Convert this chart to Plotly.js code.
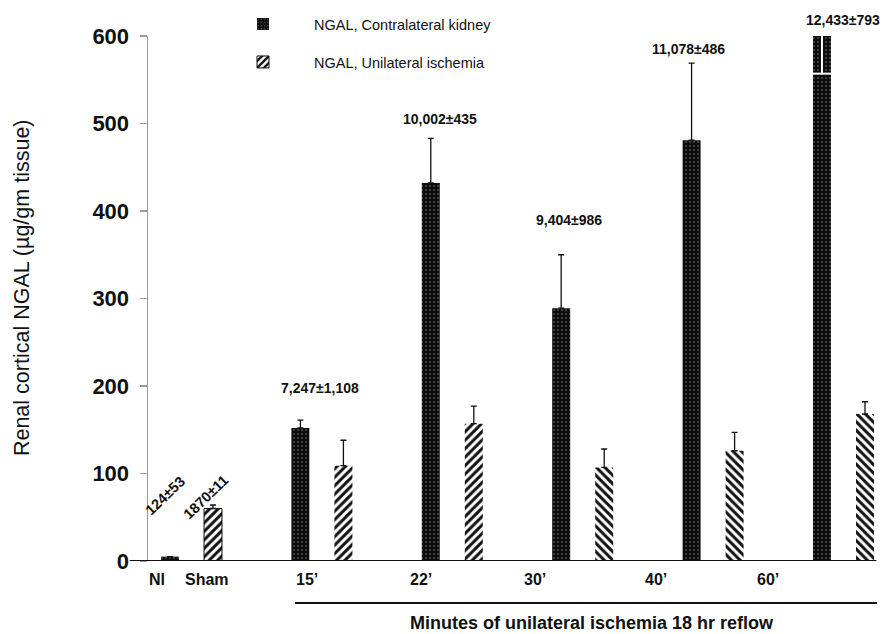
<!DOCTYPE html>
<html>
<head>
<meta charset="utf-8">
<script src="https://cdn.plot.ly/plotly-3.0.1.min.js"></script>
<style>html,body{margin:0;padding:0;background:#fff;}#chart{width:882px;height:634px;}</style>
</head>
<body>
<div id="chart"></div>
<script>
// ---- data ----
const groupIndex = [0, 1, 2, 3, 4, 5];
const contralateralName = "NGAL, Contralateral kidney";
const unilateralName = "NGAL, Unilateral ischemia";
const contralateral = [5, 152, 432, 289, 481, 600];
const contralateralErr = [0, 9, 51, 61, 88, 0];
const unilateral = [60, 109, 157, 107, 126, 168];
const unilateralErr = [4, 29, 20, 21, 21, 14];
const hatchShapes = ["/", "/", "/", "\\", "\\", "\\"];
const tickLabels = ["Nl", "Sham", "15\u2019", "22\u2019", "30\u2019", "40\u2019", "60\u2019"];
const valueLabels = ["7,247\u00b11,108", "10,002\u00b1435", "9,404\u00b1986", "11,078\u00b1486", "12,433\u00b1793"];
const rotatedLabels = ["124\u00b153", "1870\u00b111"];
const yTitle = "Renal cortical NGAL (\u00b5g/gm tissue)";
const xTitle = "Minutes of unilateral ischemia 18 hr reflow";

// ---- style / positions ----
const FONT = "Arial, 'Liberation Sans', sans-serif";
const W = 0.138;
const tickPos = [-0.264, 0.119, 0.886, 1.760, 2.634, 3.562, 4.421];
const valueLabelX = [0.985, 1.906, 2.895, 3.815, 4.996];
const valueLabelY = [0.330, 0.842, 0.650, 0.975, 1.030];
const rotX = [-0.205, 0.111];
const rotY = [0.124, 0.122];

const traces = [
  {
    type: "bar", name: contralateralName, legendgroup: "a",
    x: groupIndex, y: contralateral, width: W, offset: -0.234,
    marker: { color: "#111", line: { width: 0 },
      pattern: { shape: ".", fgcolor: "#8a8a8a", bgcolor: "#0d0d0d", size: 4, solidity: 0.1, fillmode: "replace" } },
    error_y: { type: "data", symmetric: false, array: contralateralErr, arrayminus: contralateral.map(() => 0),
      color: "#111", thickness: 1.3, width: 3 },
    cliponaxis: true, hoverinfo: "skip"
  },
  {
    type: "bar", name: unilateralName, legendgroup: "b",
    x: groupIndex, y: unilateral, width: W, offset: 0.096,
    marker: { color: "#fff", line: { width: [1, 0, 0, 0, 0, 0], color: "#111" },
      pattern: { shape: hatchShapes, fgcolor: "#111", bgcolor: "#fff", size: 6, solidity: 0.5, fillmode: "replace" } },
    error_y: { type: "data", symmetric: false, array: unilateralErr, arrayminus: unilateral.map(() => 0),
      color: "#111", thickness: 1.3, width: 3 },
    hoverinfo: "skip"
  }
];

const annotations = [];
tickLabels.forEach((t, i) => annotations.push({
  text: t, xref: "x", yref: "paper", x: tickPos[i], y: -0.036, showarrow: false,
  font: { family: FONT, size: 16, color: "#111", weight: "bold" }, xanchor: "center", yanchor: "middle"
}));
valueLabels.forEach((t, i) => annotations.push({
  text: t, xref: "x", yref: "paper", x: valueLabelX[i], y: valueLabelY[i], showarrow: false,
  font: { family: FONT, size: 14, color: "#111", weight: "bold" }, xanchor: "center", yanchor: "middle"
}));
rotatedLabels.forEach((t, i) => annotations.push({
  text: t, xref: "x", yref: "paper", x: rotX[i], y: rotY[i], showarrow: false, textangle: -44,
  font: { family: FONT, size: 14.5, color: "#111", weight: "bold" }, xanchor: "center", yanchor: "middle"
}));
annotations.push({
  text: yTitle, xref: "paper", yref: "paper", x: -0.172, y: 0.52, showarrow: false, textangle: -90,
  font: { family: FONT, size: 21.5, color: "#111" }, xanchor: "center", yanchor: "middle"
});
annotations.push({
  text: xTitle, xref: "paper", yref: "paper", x: 0.6066, y: -0.118, showarrow: false,
  font: { family: FONT, size: 18, color: "#111", weight: "bold" }, xanchor: "center", yanchor: "middle"
});

const shapes = [
  { type: "line", xref: "paper", yref: "y", x0: -0.025, x1: 0.995, y0: 0, y1: 0, line: { color: "#111", width: 2 } },
  { type: "line", xref: "paper", yref: "paper", x0: 0.2008, x1: 0.996, y0: -0.08, y1: -0.08, line: { color: "#111", width: 2 } },
  { type: "line", xref: "x", yref: "y", x0: 5 - 0.236, x1: 5 - 0.094, y0: 557, y1: 557, line: { color: "#fff", width: 2 } },
  { type: "line", xref: "x", yref: "y", x0: 5 - 0.165, x1: 5 - 0.165, y0: 557, y1: 601, line: { color: "#fff", width: 2 } }
];

const layout = {
  width: 882, height: 634,
  margin: { l: 148, r: 2, t: 36, b: 73 },
  paper_bgcolor: "#fff", plot_bgcolor: "#fff",
  font: { family: FONT, color: "#111" },
  barmode: "overlay",
  showlegend: true,
  legend: { x: (212 - 148) / 732, y: 1.053, xanchor: "left", yanchor: "top", bgcolor: "rgba(0,0,0,0)",
    font: { family: FONT, size: 14.5, color: "#111" }, tracegroupgap: 16, itemwidth: 92, traceorder: "grouped" },
  xaxis: { range: [-0.3336, 5.28], showline: false, showgrid: false, zeroline: false,
    showticklabels: false, ticks: "", fixedrange: true },
  yaxis: { range: [0, 600], tickvals: [0, 100, 200, 300, 400, 500, 600],
    showline: true, linecolor: "#9a9a9a", linewidth: 1.5, ticks: "outside", ticklen: 7, tickcolor: "#9a9a9a",
    tickwidth: 1.2, showgrid: false, zeroline: false, ticklabelstandoff: 6,
    tickfont: { family: FONT, size: 22, color: "#111", weight: "bold" }, fixedrange: true },
  annotations: annotations,
  shapes: shapes
};

Plotly.newPlot("chart", traces, layout, { displayModeBar: false, staticPlot: true });
</script>
</body>
</html>
